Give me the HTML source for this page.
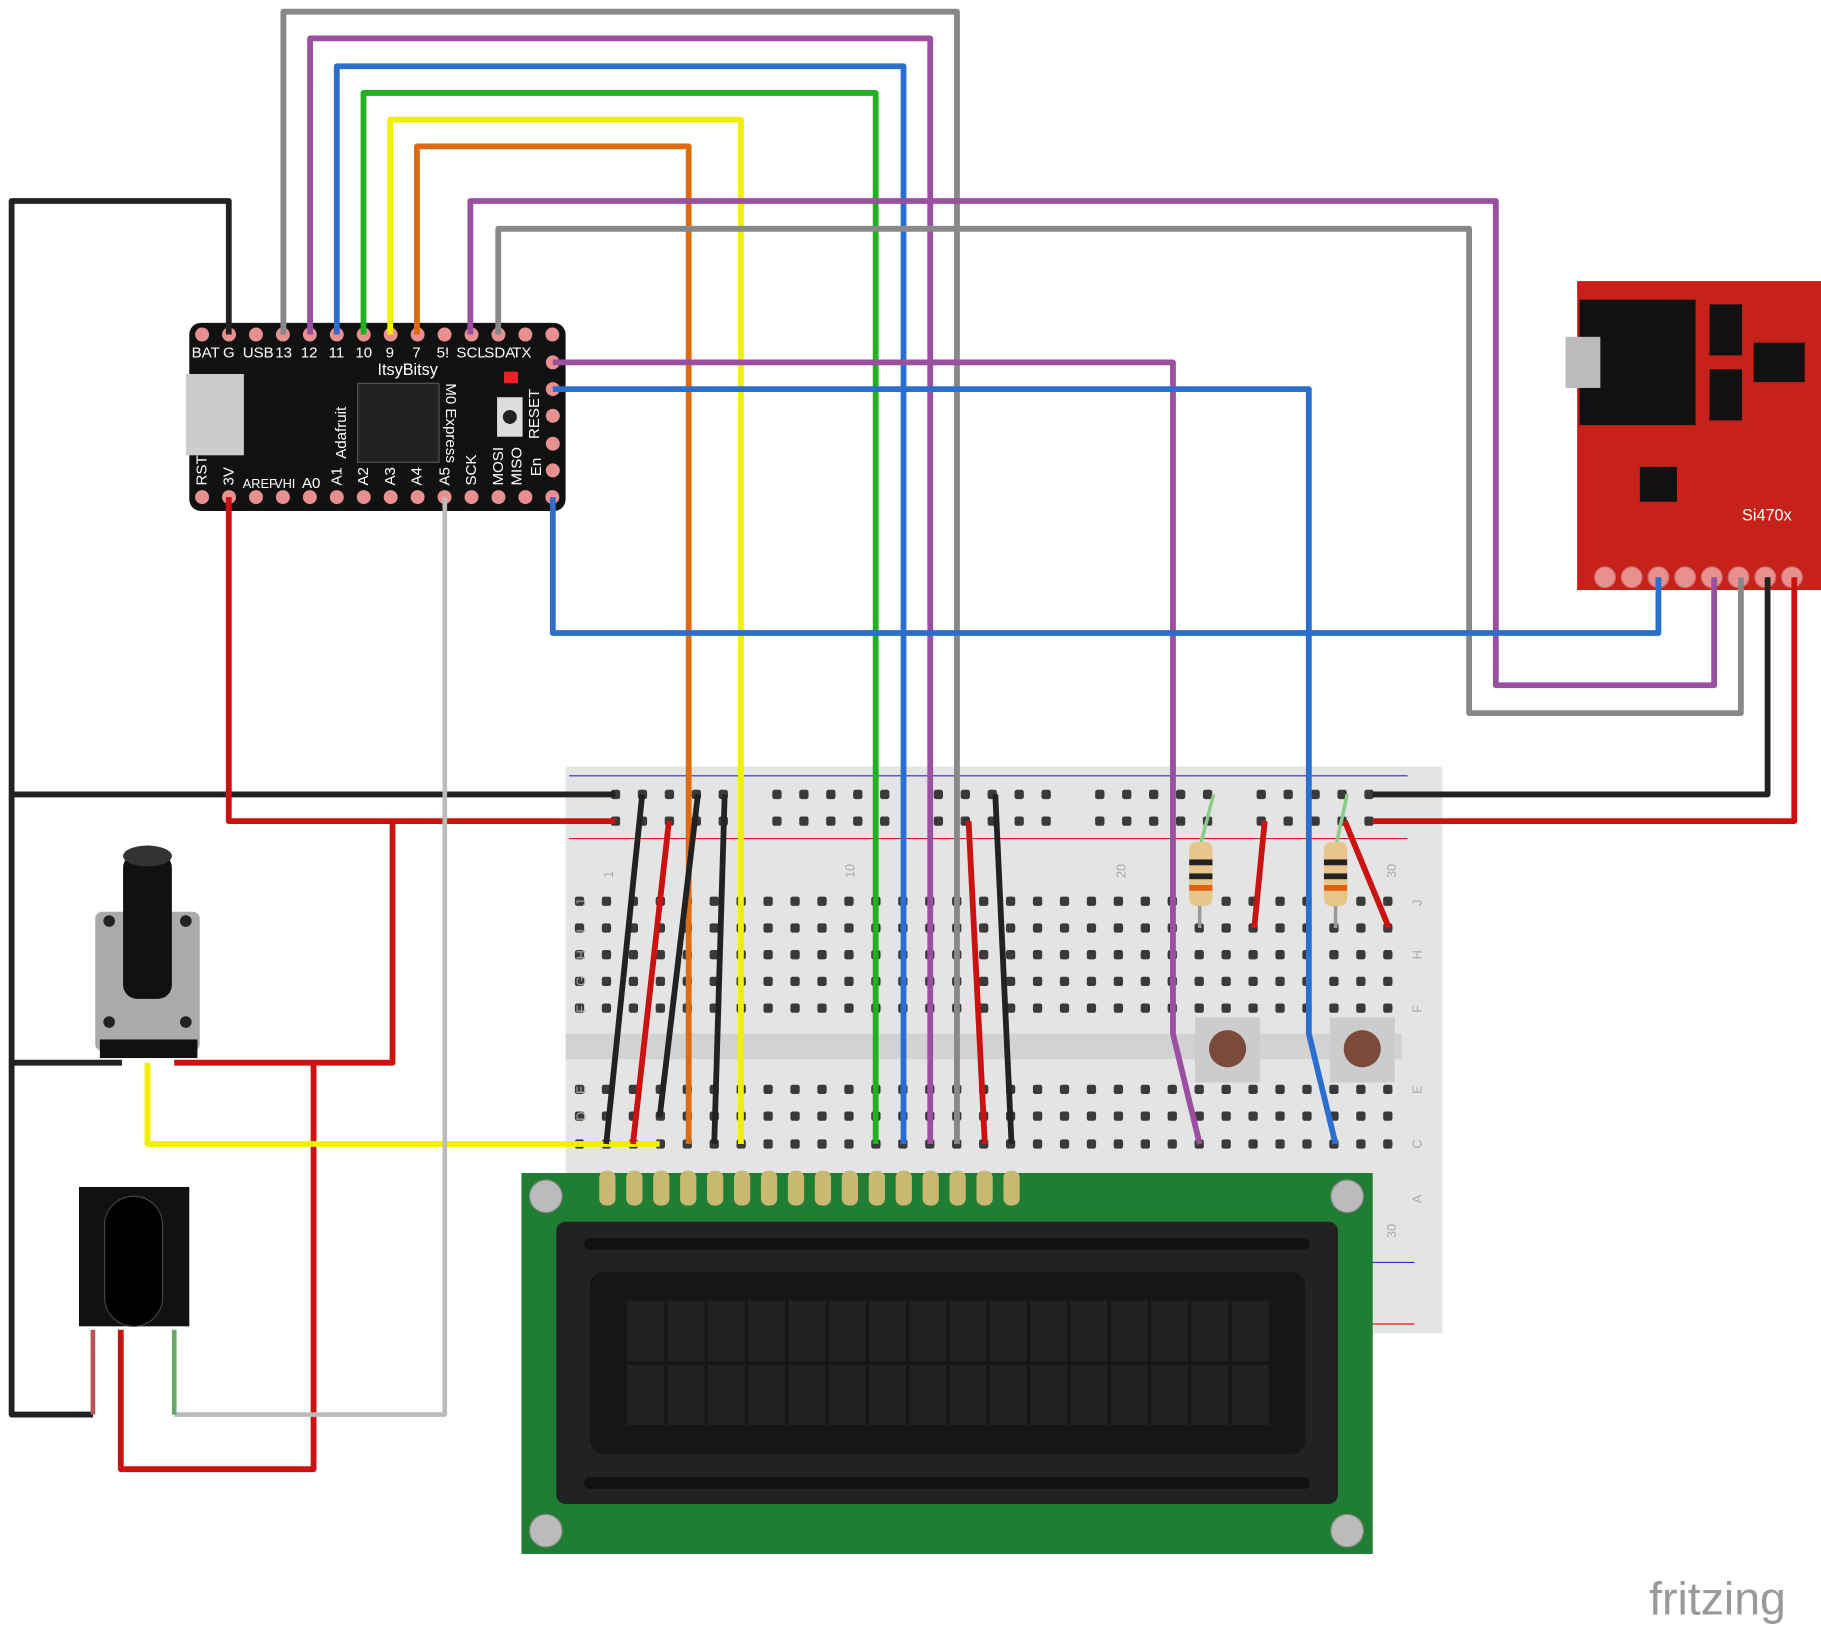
<!DOCTYPE html>
<html><head><meta charset="utf-8"><style>
html,body{margin:0;padding:0;background:#fff}
svg{display:block}
text{font-family:"Liberation Sans",sans-serif}
</style></head><body>
<svg id="s" xmlns="http://www.w3.org/2000/svg" width="1821" height="1626" viewBox="0 0 1568 1400">
<!-- breadboard -->
<rect x="487" y="660" width="755" height="488" fill="#e4e4e4"/>
<line x1="490" y1="668" x2="1212" y2="668" stroke="#2233cc" stroke-width="1"/>
<line x1="490" y1="722" x2="1212" y2="722" stroke="#cc2222" stroke-width="1"/>
<line x1="1180" y1="1087" x2="1218" y2="1087" stroke="#2233cc"/>
<line x1="1180" y1="1140" x2="1218" y2="1140" stroke="#cc2222"/>
<rect x="487" y="890" width="720" height="22" fill="#d2d2d2"/>
<g id="bbholes"></g>
<g font-size="11" fill="#aaa">
<text x="528" y="756" transform="rotate(-90 528 756)">1</text>
<text x="736" y="756" transform="rotate(-90 736 756)">10</text>
<text x="969" y="756" transform="rotate(-90 969 756)">20</text>
<text x="1202" y="756" transform="rotate(-90 1202 756)">30</text>
<text x="1202" y="1066" transform="rotate(-90 1202 1066)">30</text>
<text x="504" y="780" transform="rotate(-90 504 780)">J</text>
<text x="504" y="803" transform="rotate(-90 504 803)">I</text>
<text x="504" y="826" transform="rotate(-90 504 826)">H</text>
<text x="504" y="849" transform="rotate(-90 504 849)">G</text>
<text x="504" y="872" transform="rotate(-90 504 872)">F</text>
<text x="504" y="942" transform="rotate(-90 504 942)">E</text>
<text x="504" y="965" transform="rotate(-90 504 965)">D</text>
<text x="1224" y="780" transform="rotate(-90 1224 780)">J</text>
<text x="1224" y="826" transform="rotate(-90 1224 826)">H</text>
<text x="1224" y="872" transform="rotate(-90 1224 872)">F</text>
<text x="1224" y="942" transform="rotate(-90 1224 942)">E</text>
<text x="1224" y="989" transform="rotate(-90 1224 989)">C</text>
<text x="1224" y="1036" transform="rotate(-90 1224 1036)">A</text>
</g>
<!-- itsybitsy -->
<rect x="163" y="278" width="324" height="162" rx="10" fill="#111"/>
<rect x="160" y="322" width="50" height="70" fill="#ccc"/>
<rect x="308" y="330" width="70" height="68" fill="#222" stroke="#555"/>
<rect x="428" y="342" width="22" height="34" fill="#ddd"/><circle cx="439" cy="359" r="6" fill="#222"/>
<rect x="434" y="320" width="12" height="10" fill="#e22"/>
<g id="pins"></g>
<g font-size="13" fill="#fff">
<text x="165" y="308">BAT</text><text x="192" y="308">G</text><text x="209" y="308">USB</text><text x="237" y="308">13</text><text x="259" y="308">12</text><text x="283" y="308">11</text><text x="306" y="308">10</text><text x="332" y="308">9</text><text x="355" y="308">7</text><text x="376" y="308">5!</text><text x="393" y="308">SCL</text><text x="417" y="308">SDA</text><text x="441" y="308">TX</text>
<text x="325" y="323" font-size="14">ItsyBitsy</text>
<text x="178" y="418" transform="rotate(-90 178 418)">RST</text>
<text x="201" y="418" transform="rotate(-90 201 418)">3V</text>
<text x="209" y="420" font-size="11">AREF</text>
<text x="236" y="420" font-size="11">VHI</text>
<text x="260" y="420">A0</text>
<text x="294" y="418" transform="rotate(-90 294 418)">A1</text>
<text x="317" y="418" transform="rotate(-90 317 418)">A2</text>
<text x="340" y="418" transform="rotate(-90 340 418)">A3</text>
<text x="363" y="418" transform="rotate(-90 363 418)">A4</text>
<text x="387" y="418" transform="rotate(-90 387 418)">A5</text>
<text x="410" y="418" transform="rotate(-90 410 418)">SCK</text>
<text x="433" y="418" transform="rotate(-90 433 418)">MOSI</text>
<text x="449" y="418" transform="rotate(-90 449 418)">MISO</text>
<text x="466" y="410" transform="rotate(-90 466 410)">En</text>
<text x="464" y="378" transform="rotate(-90 464 378)">RESET</text>
<text x="298" y="395" transform="rotate(-90 298 395)">Adafruit</text>
<text x="384" y="330" transform="rotate(90 384 330)">M0 Express</text>
</g>
<!-- Si470x -->
<rect x="1358" y="242" width="210" height="266" fill="#c7221a"/>
<rect x="1360" y="258" width="100" height="108" fill="#111"/>
<rect x="1348" y="290" width="30" height="44" fill="#bbb"/>
<rect x="1472" y="262" width="28" height="44" fill="#111"/><rect x="1472" y="318" width="28" height="44" fill="#111"/>
<rect x="1510" y="295" width="44" height="34" fill="#111"/>
<rect x="1412" y="402" width="32" height="30" fill="#111"/>
<text x="1500" y="448" font-size="14" fill="#fff" font-family="Liberation Mono,monospace">Si470x</text>
<g id="sipins"></g>
<!-- wires -->
<g fill="none" stroke-width="5" stroke-linejoin="round">
<polyline stroke="#888" points="244,288 244,10 824,10 824,985"/>
<polyline stroke="#9b4fa0" points="267,288 267,33 801,33 801,985"/>
<polyline stroke="#2a6fcf" points="290,288 290,57 778,57 778,985"/>
<polyline stroke="#22b022" points="313,288 313,80 754,80 754,985"/>
<polyline stroke="#f0f000" points="336,288 336,103 638,103 638,985"/>
<polyline stroke="#e06a10" points="359,288 359,126 593,126 593,985"/>
<polyline stroke="#9b4fa0" points="405,288 405,173 1288,173 1288,590 1476,590 1476,497"/>
<polyline stroke="#888" points="429,288 429,197 1265,197 1265,614 1499,614 1499,497"/>
<polyline stroke="#222" points="197,288 197,173 10,173 10,1218 80,1218"/>
<polyline stroke="#222" points="10,684 530,684"/>
<polyline stroke="#222" points="10,915 105,915"/>
<polyline stroke="#cc1111" points="197,428 197,707 530,707"/>
<polyline stroke="#cc1111" points="338,707 338,915 150,915"/>
<polyline stroke="#cc1111" points="270,915 270,1265 104,1265 104,1145"/>
<polyline stroke="#f0f000" points="127,915 127,985 568,985"/>
<polyline stroke="#bbb" stroke-width="4" points="383,428 383,1218 150,1218"/>
<polyline stroke="#9b4fa0" points="476,312 1010,312 1010,890 1033,985"/>
<polyline stroke="#2a6fcf" points="476,335 1127,335 1127,890 1150,985"/>
<polyline stroke="#2a6fcf" points="476,428 476,545 1428,545 1428,497"/>
<polyline stroke="#222" points="1182,684 1522,684 1522,497"/>
<polyline stroke="#cc1111" points="1182,707 1545,707 1545,497"/>
<line stroke="#222" x1="553" y1="684" x2="522" y2="985"/>
<line stroke="#cc1111" x1="576" y1="707" x2="545" y2="985"/>
<line stroke="#222" x1="601" y1="684" x2="568" y2="962"/>
<line stroke="#222" x1="624" y1="684" x2="615" y2="985"/>
<line stroke="#cc1111" x1="834" y1="707" x2="848" y2="985"/>
<line stroke="#222" x1="857" y1="684" x2="871" y2="985"/>
<line stroke="#cc1111" x1="1089" y1="707" x2="1080" y2="799"/>
<line stroke="#cc1111" x1="1158" y1="707" x2="1196" y2="799"/>
</g>
<!-- resistors -->
<line x1="1033" y1="730" x2="1033" y2="799" stroke="#999" stroke-width="3"/>
<line x1="1033" y1="730" x2="1045" y2="684" stroke="#8c8" stroke-width="3"/>
<rect x="1024" y="725" width="20" height="55" rx="6" fill="#e8c58a"/>
<rect x="1024" y="740" width="20" height="5" fill="#222"/><rect x="1024" y="752" width="20" height="5" fill="#222"/><rect x="1024" y="762" width="20" height="5" fill="#e06010"/>
<line x1="1150" y1="730" x2="1150" y2="799" stroke="#999" stroke-width="3"/>
<line x1="1150" y1="730" x2="1160" y2="684" stroke="#8c8" stroke-width="3"/>
<rect x="1140" y="725" width="20" height="55" rx="6" fill="#e8c58a"/>
<rect x="1140" y="740" width="20" height="5" fill="#222"/><rect x="1140" y="752" width="20" height="5" fill="#222"/><rect x="1140" y="762" width="20" height="5" fill="#e06010"/>
<!-- buttons -->
<rect x="1029" y="876" width="56" height="56" fill="#ccc"/><circle cx="1057" cy="903" r="16" fill="#7a4a3a"/>
<rect x="1145" y="876" width="56" height="56" fill="#ccc"/><circle cx="1173" cy="903" r="16" fill="#7a4a3a"/>
<!-- pot -->
<rect x="82" y="785" width="90" height="120" rx="6" fill="#aaa"/>
<rect x="86" y="895" width="84" height="16" fill="#111"/>
<rect x="106" y="735" width="42" height="125" rx="12" fill="#111"/>
<ellipse cx="127" cy="737" rx="21" ry="9" fill="#333"/>
<circle cx="94" cy="793" r="5" fill="#222"/><circle cx="160" cy="793" r="5" fill="#222"/><circle cx="94" cy="880" r="5" fill="#222"/><circle cx="160" cy="880" r="5" fill="#222"/>
<!-- IR -->
<rect x="68" y="1022" width="95" height="120" fill="#111"/>
<rect x="90" y="1030" width="50" height="112" rx="25" fill="#000" stroke="#444"/>
<line x1="80" y1="1145" x2="80" y2="1218" stroke="#b55" stroke-width="4"/>
<line x1="150" y1="1145" x2="150" y2="1218" stroke="#6a6" stroke-width="4"/>
<!-- LCD -->
<rect x="449" y="1010" width="733" height="328" fill="#1f7d34"/>
<rect x="479" y="1052" width="673" height="243" rx="8" fill="#222"/>
<rect x="503" y="1066" width="625" height="10" rx="5" fill="#111"/><rect x="503" y="1272" width="625" height="10" rx="5" fill="#111"/>
<rect x="508" y="1095" width="616" height="157" rx="12" fill="#161616"/>
<g id="cells"></g>
<g id="lcdpins"></g>
<g fill="#bbb" stroke="#888"><circle cx="470" cy="1030" r="14"/><circle cx="1160" cy="1030" r="14"/><circle cx="470" cy="1318" r="14"/><circle cx="1160" cy="1318" r="14"/></g>
<text x="1420" y="1390" font-size="40" fill="#999">fritzing</text>
</svg>
<script>
var NS="http://www.w3.org/2000/svg";
function el(p,t,a){var e=document.createElementNS(NS,t);for(var k in a)e.setAttribute(k,a[k]);document.getElementById(p).appendChild(e);}
var rows=[776,799,822,845,868,938,961,985];
for(var c=0;c<31;c++){var x=499+c*23.2;
 rows.forEach(function(y){el("bbholes","rect",{x:x-4,y:y-4,width:8,height:8,rx:2,fill:"#3a3a3a"});});}
for(var g=0;g<5;g++)for(var i=0;i<5;i++){var x=530+g*139+i*23.2;
 [684,707].forEach(function(y){el("bbholes","rect",{x:x-4,y:y-4,width:8,height:8,rx:2,fill:"#3a3a3a"});});}
for(var i=0;i<14;i++){var x=174+i*23.2;
 el("pins","circle",{cx:x,cy:288,r:6,fill:"#e89090"});el("pins","circle",{cx:x,cy:428,r:6,fill:"#e89090"});}
[312,335,358,382,405].forEach(function(y){el("pins","circle",{cx:476,cy:y,r:6,fill:"#e89090"});});
for(var i=0;i<8;i++)el("sipins","circle",{cx:1382+i*23,cy:497,r:9,fill:"#e89090",stroke:"#c66"});
for(var r=0;r<2;r++)for(var c=0;c<16;c++)el("cells","rect",{x:540+c*34.7,y:1120+r*55,width:32,height:52,fill:"#222"});
for(var i=0;i<16;i++)el("lcdpins","rect",{x:516+i*23.2,y:1008,width:14,height:30,rx:6,fill:"#c8b870"});
</script>
</body></html>
